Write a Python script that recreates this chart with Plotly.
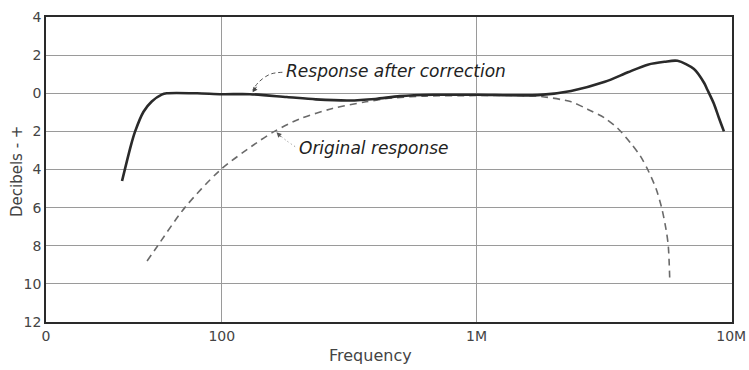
import plotly.graph_objects as go

# Frequency in kilocycles, level in dB
corrected_freq = [40.6, 44.0, 45.7, 49.3, 53.1, 58.1, 60.8, 80, 100, 129, 180, 234, 316,
                  400, 500, 676, 1000, 1740, 2350, 3190, 3930, 4700, 5470, 6150, 7140,
                  7820, 8050, 8550, 8950, 9360]
corrected_db = [-4.6, -2.73, -2.0, -0.97, -0.43, -0.07, 0.0, 0.0, -0.05, -0.05, -0.2, -0.32,
                -0.38, -0.3, -0.15, -0.08, -0.08, -0.1, 0.12, 0.6, 1.1, 1.5, 1.65, 1.7,
                1.27, 0.55, 0.2, -0.55, -1.3, -2.0]

original_freq = [50.9, 55.7, 71.6, 98.2, 137, 161, 202, 272, 368, 466, 631, 1000, 1500,
                 1740, 2355, 2738, 3184, 3590, 4050, 4400, 4700, 5066, 5330, 5540, 5660, 5740]
original_db = [-8.8, -8.05, -6.0, -4.05, -2.6, -2.0, -1.35, -0.8, -0.45, -0.25, -0.15, -0.12,
               -0.12, -0.15, -0.45, -0.85, -1.3, -1.85, -2.65, -3.3, -4.0, -5.0, -6.0, -7.1,
               -8.0, -9.9]

y_ticks = [4, 2, 0, -2, -4, -6, -8, -10, -12]
y_tick_text = [str(abs(v)) for v in y_ticks]
x_ticks = [10 ** 1.31, 100, 1000, 10000]
x_tick_text = ["0", "100", "1M", "10M"]

# Leader lines from the captions to the curves
lead_corr_freq = [173, 155, 140, 132]
lead_corr_db = [1.1, 1.0, 0.6, 0.15]
lead_orig_freq = [194, 180, 167]
lead_orig_db = [-2.8, -2.5, -2.15]

ink = "#2a2a2a"
grid = "#9a9a9a"
label_font = dict(family="DejaVu Sans", size=14, color="#444")

fig = go.Figure()
fig.add_trace(go.Scatter(x=original_freq, y=original_db, mode="lines",
                         line=dict(color="#6a6a6a", width=1.6, dash="7px,5px", shape="spline",
                                   smoothing=0.8),
                         hoverinfo="skip"))
fig.add_trace(go.Scatter(x=corrected_freq, y=corrected_db, mode="lines",
                         line=dict(color=ink, width=2.6, shape="spline", smoothing=0.8),
                         hoverinfo="skip"))
fig.add_trace(go.Scatter(x=lead_corr_freq, y=lead_corr_db, mode="lines",
                         line=dict(color="#555", width=1, dash="4px,3px", shape="spline"),
                         hoverinfo="skip"))
fig.add_trace(go.Scatter(x=lead_orig_freq, y=lead_orig_db, mode="lines",
                         line=dict(color="#777", width=1, dash="1px,3px", shape="spline"),
                         hoverinfo="skip"))

# Arrowheads at the ends of the leaders
fig.add_annotation(x=2.121, y=0.05, xref="x", yref="y", text="", showarrow=True,
                   arrowhead=2, arrowsize=1, arrowwidth=1, arrowcolor="#444", ax=5, ay=-7)
fig.add_annotation(x=2.215, y=-2.05, xref="x", yref="y", text="", showarrow=True,
                   arrowhead=2, arrowsize=1, arrowwidth=1, arrowcolor="#555", ax=6, ay=6)

caption_font = dict(family="DejaVu Sans", size=17, color="#222")
fig.add_annotation(x=2.245, y=1.15, xref="x", yref="y", text="<i>Response after correction</i>",
                   showarrow=False, xanchor="left", yanchor="middle", font=caption_font)
fig.add_annotation(x=2.295, y=-2.85, xref="x", yref="y", text="<i>Original response</i>",
                   showarrow=False, xanchor="left", yanchor="middle", font=caption_font)

# Axis titles, placed in pixels and converted to paper fractions below
fig.add_annotation(x=370, y=355, text="Frequency", showarrow=False,
                   font=dict(family="DejaVu Sans", size=16, color="#444"))
fig.add_annotation(x=17, y=172, text="Decibels - +", showarrow=False, textangle=-90,
                   font=dict(family="DejaVu Sans", size=15, color="#444"))

W, H = 749, 370
pl, pr, pt, pb = 46, 17, 17, 48
pw, ph = W - pl - pr, H - pt - pb

fig.update_layout(
    width=W, height=H,
    margin=dict(l=pl, r=pr, t=pt, b=pb, autoexpand=False),
    paper_bgcolor="white", plot_bgcolor="white",
    showlegend=False,
)

for ann in fig.layout.annotations[-2:]:
    px, py = ann.x, ann.y
    ann.xref = "paper"
    ann.yref = "paper"
    ann.x = (px - pl) / pw
    ann.y = 1 - (py - pt) / ph
    ann.xanchor = "center"
    ann.yanchor = "middle"

fig.update_xaxes(type="log", range=[1.31, 4.003], tickvals=x_ticks, ticktext=x_tick_text,
                 showgrid=True, gridcolor=grid, gridwidth=1, zeroline=False,
                 showline=True, linecolor=ink, linewidth=1.6, mirror=True,
                 ticks="", tickfont=label_font, automargin=False)
fig.update_yaxes(range=[-12, 4], tickvals=y_ticks, ticktext=y_tick_text,
                 showgrid=True, gridcolor=grid, gridwidth=1, zeroline=False,
                 showline=True, linecolor=ink, linewidth=1.6, mirror=True,
                 ticks="", tickfont=label_font, automargin=False)

fig.write_html("out.html")
